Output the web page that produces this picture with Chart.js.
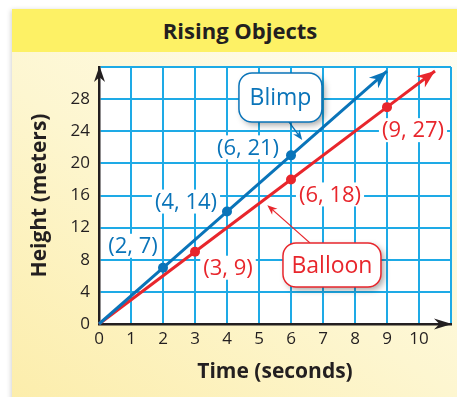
<!DOCTYPE html>
<html><head><meta charset="utf-8">
<script src="https://cdn.jsdelivr.net/npm/chart.js@4.4.1/dist/chart.umd.min.js"></script>
<style>
html,body{margin:0;padding:0;background:#fff;width:457px;height:397px;overflow:hidden;}
#frame{position:absolute;left:12px;top:9px;width:456px;height:400px;background:linear-gradient(35deg,#fcee a8 0%,#fdf6d0 45%,#fffef5 100%);background:linear-gradient(35deg,#fcedaa 0%,#fdf6d0 45%,#fffef5 100%);box-shadow:-1px 1px 5px rgba(0,0,0,0.18);}
#titlebar{position:absolute;left:0;top:0;width:100%;height:43px;background:#fdf165;font:bold 22px 'Open Sans',sans-serif;color:#231f20;text-align:center;line-height:43px;}
#wrap{position:absolute;left:0;top:0;width:457px;height:397px;}
</style></head>
<body>
<div id="frame"><div id="titlebar">Rising Objects</div></div>
<div id="wrap"><canvas id="c" width="457" height="397"></canvas></div>
<script>
// ---- data ----
const timeTicks = [0,1,2,3,4,5,6,7,8,9,10];
const heightTicks = [0,4,8,12,16,20,24,28];
const blimpTime = [2,4,6];
const blimpHeight = [7,14,21];
const balloonTime = [3,6,9];
const balloonHeight = [9,18,27];
const blimpLineEnd = [9,31.5];
const balloonLineEnd = [10.5,31.5];

// ---- styles ----
const ink = '#231f20';
const blimpColor = '#0a74b9';
const balloonColor = '#e8262c';
const gridColor = '#1eaae6';
const FONT = "'Open Sans', sans-serif";

// label offsets (pixels) relative to each marked point
const blimpLabelOffsets = [[-30,-22],[-41,-10],[-43,-8]];
const balloonLabelOffsets = [[33,16],[39,15],[26,23]];

const callouts = [
  {text:'Blimp', color:blimpColor, cx:5.67, cy:28.2, w:83, h:49, from:[5.93,25.2], to:[6.35,22.9]},
  {text:'Balloon', color:balloonColor, cx:7.28, cy:7.35, w:98, h:44, from:[6.59,10.1], to:[5.26,14.8]}
];

function lineData(xs, ys, end){
  const d = [{x:0,y:0}];
  xs.forEach((x,i)=>d.push({x:x,y:ys[i]}));
  d.push({x:end[0],y:end[1]});
  return d;
}

function arrowHead(ctx, x, y, ang, len, half, color){
  ctx.save();
  ctx.translate(x,y); ctx.rotate(ang);
  ctx.fillStyle = color;
  ctx.beginPath();
  ctx.moveTo(0,0);
  ctx.lineTo(-len, -half);
  ctx.lineTo(-len*0.7, 0);
  ctx.lineTo(-len, half);
  ctx.closePath();
  ctx.fill();
  ctx.restore();
}

function roundRect(ctx,x,y,w,h,r){
  ctx.beginPath();
  ctx.moveTo(x+r,y);
  ctx.arcTo(x+w,y,x+w,y+h,r);
  ctx.arcTo(x+w,y+h,x,y+h,r);
  ctx.arcTo(x,y+h,x,y,r);
  ctx.arcTo(x,y,x+w,y,r);
  ctx.closePath();
}

const decor = {
  id:'decor',
  beforeDraw(chart){
    const {ctx, chartArea:a} = chart;
    ctx.save();
    ctx.fillStyle = '#ffffff';
    ctx.fillRect(a.left, a.top, a.right-a.left, a.bottom-a.top);
    ctx.restore();
  },
  beforeDatasetsDraw(chart){
    const {ctx, scales:{x,y}} = chart;
    ctx.save();
    ctx.font = '22px ' + FONT;
    ctx.textAlign = 'center';
    ctx.textBaseline = 'middle';
    const groups = [
      [blimpTime, blimpHeight, blimpLabelOffsets, blimpColor],
      [balloonTime, balloonHeight, balloonLabelOffsets, balloonColor]
    ];
    groups.forEach(([xs,ys,offs,col])=>{
      xs.forEach((xv,i)=>{
        const t = '(' + xv + ', ' + ys[i] + ')';
        const px = x.getPixelForValue(xv) + offs[i][0];
        const py = y.getPixelForValue(ys[i]) + offs[i][1];
        const w = ctx.measureText(t).width + 6;
        ctx.fillStyle = '#ffffff';
        ctx.fillRect(px - w/2, py - 12, w, 24);
        ctx.fillStyle = col;
        ctx.fillText(t, px, py + 1);
      });
    });
    ctx.restore();
  },
  afterDatasetsDraw(chart){
    const {ctx, chartArea:a, scales:{x,y}} = chart;
    chart.data.datasets.forEach((ds,di)=>{
      const pts = chart.getDatasetMeta(di).data;
      const p1 = pts[pts.length-2], p2 = pts[pts.length-1];
      const ang = Math.atan2(p2.y-p1.y, p2.x-p1.x);
      arrowHead(ctx, p2.x, p2.y, ang, 18, 7, ds.borderColor);
    });
    arrowHead(ctx, x.left + 0.5, a.top - 1, -Math.PI/2, 16, 5.5, ink);
    arrowHead(ctx, a.right + 1, y.bottom, 0, 18, 5.5, ink);
    callouts.forEach(c=>{
      const cx = x.getPixelForValue(c.cx), cy = y.getPixelForValue(c.cy);
      const fx = x.getPixelForValue(c.from[0]), fy = y.getPixelForValue(c.from[1]);
      const tx = x.getPixelForValue(c.to[0]), ty = y.getPixelForValue(c.to[1]);
      ctx.save();
      ctx.strokeStyle = c.color; ctx.lineWidth = 1.3;
      const ang = Math.atan2(ty-fy, tx-fx);
      ctx.beginPath(); ctx.moveTo(fx,fy); ctx.lineTo(tx - 6*Math.cos(ang), ty - 6*Math.sin(ang)); ctx.stroke();
      arrowHead(ctx, tx, ty, ang, 10, 4, c.color);
      ctx.restore();
      ctx.save();
      ctx.shadowColor = 'rgba(0,0,0,0.35)';
      ctx.shadowBlur = 6; ctx.shadowOffsetX = 3; ctx.shadowOffsetY = 3;
      roundRect(ctx, cx - c.w/2, cy - c.h/2, c.w, c.h, 13);
      ctx.fillStyle = '#ffffff';
      ctx.fill();
      ctx.restore();
      ctx.save();
      roundRect(ctx, cx - c.w/2, cy - c.h/2, c.w, c.h, 13);
      ctx.strokeStyle = c.color; ctx.lineWidth = 1.5; ctx.stroke();
      ctx.fillStyle = c.color;
      ctx.font = '23px ' + FONT;
      ctx.textAlign = 'center'; ctx.textBaseline = 'middle';
      ctx.fillText(c.text, cx, cy + 1);
      ctx.restore();
    });
  }
};

Chart.defaults.font.family = FONT;
Chart.defaults.color = ink;

new Chart(document.getElementById('c'), {
  type:'line',
  data:{
    datasets:[
      {label:'Blimp', data:lineData(blimpTime, blimpHeight, blimpLineEnd), borderColor:blimpColor, backgroundColor:blimpColor, borderWidth:3,
       pointRadius:ctx=>(ctx.dataIndex===0||ctx.dataIndex===blimpTime.length+1)?0:5, pointBorderWidth:0, tension:0},
      {label:'Balloon', data:lineData(balloonTime, balloonHeight, balloonLineEnd), borderColor:balloonColor, backgroundColor:balloonColor, borderWidth:3,
       pointRadius:ctx=>(ctx.dataIndex===0||ctx.dataIndex===balloonTime.length+1)?0:5, pointBorderWidth:0, tension:0}
    ]
  },
  options:{
    responsive:false,
    animation:false,
    clip:false,
    layout:{padding:{left:0, top:67, right:6, bottom:0}},
    plugins:{legend:{display:false}, tooltip:{enabled:false}},
    scales:{
      x:{
        type:'linear', min:0, max:11,
        ticks:{stepSize:1, autoSkip:false, maxRotation:0, padding:5, color:ink, font:{size:17},
          callback:v=>timeTicks.includes(v)?String(v):''},
        grid:{color:gridColor, lineWidth:2, drawTicks:false},
        border:{display:true, color:ink, width:2.5},
        title:{display:true, text:'Time (seconds)', color:ink, font:{size:21, weight:'bold'}, padding:{top:0,bottom:12}},
        afterFit:s=>{s.height = 73;}
      },
      y:{
        type:'linear', min:0, max:32,
        ticks:{stepSize:4, autoSkip:false, padding:9, color:ink, font:{size:17},
          callback:v=>heightTicks.includes(v)?String(v):''},
        grid:{color:gridColor, lineWidth:2, drawTicks:false},
        border:{display:true, color:ink, width:2.5},
        title:{display:true, text:'Height (meters)', color:ink, font:{size:21, weight:'bold'}, padding:{top:27,bottom:0}},
        afterFit:s=>{s.width = 99;}
      }
    }
  },
  plugins:[decor]
});
</script>
</body></html>
